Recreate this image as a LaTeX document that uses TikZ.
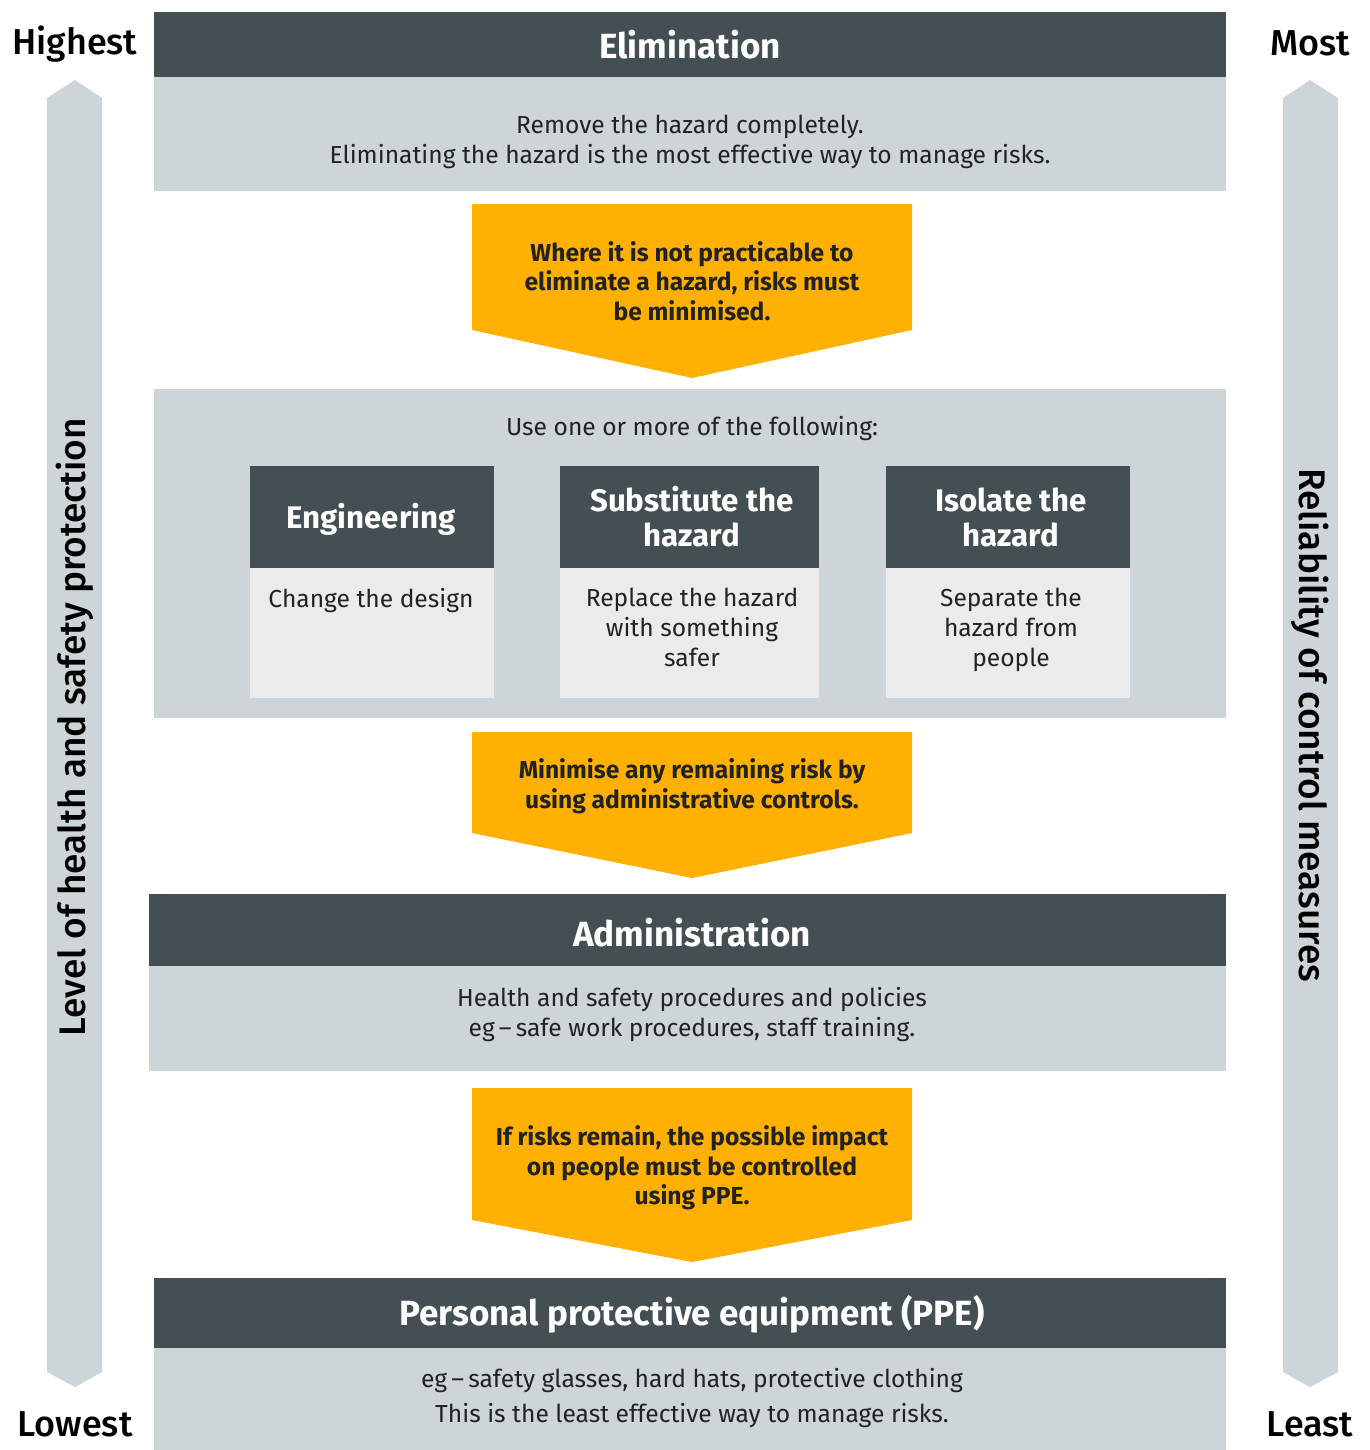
\documentclass[tikz,border=0pt]{standalone}
\usepackage{fontspec}
\setmainfont{Fira Sans}
\newfontfamily\medfont{Fira Sans Medium}
\definecolor{dark}{HTML}{444F54}
\definecolor{lightg}{HTML}{CDD5D8}
\definecolor{pale}{HTML}{EBEBEB}
\definecolor{amber}{HTML}{FFB000}
\definecolor{ink}{HTML}{222222}
\begin{document}
\begin{tikzpicture}[x=1pt,y=-1pt,
  box/.style={inner sep=0pt,outer sep=0pt,draw=none},
  hdr/.style={box,fill=dark},
  band/.style={box,fill=lightg},
  subbody/.style={box,fill=pale},
  hdrtext/.style={text=white,font=\bfseries\fontsize{35}{40}\selectfont,align=center,inner sep=0pt},
  subhdrtext/.style={text=white,font=\bfseries\fontsize{31.2}{35}\selectfont,align=center,inner sep=0pt},
  bodytext/.style={text=ink,font=\fontsize{24.6}{30}\selectfont,align=center,inner sep=0pt},
  ppetext/.style={text=ink,font=\fontsize{24.6}{35}\selectfont,align=center,inner sep=0pt},
  chevtext/.style={text=ink,font=\bfseries\fontsize{24.6}{29.5}\selectfont,align=center,inner sep=0pt},
  cornertext/.style={text=black,font=\medfont\fontsize{36}{40}\selectfont,inner sep=0pt},
  sidetext/.style={text=black,font=\medfont\fontsize{37}{40}\selectfont,inner sep=0pt},
  chev/.style={fill=amber,draw=none},
  sidearrow/.style={fill=lightg,draw=none}]
\useasboundingbox (0,0) rectangle (1369,1450);
\fill[white] (0,0) rectangle (1369,1450);

% side arrows
\fill[sidearrow] (47,98) -- (75,80) -- (102,98) -- (102,1372) -- (75,1387) -- (47,1372) -- cycle;
\fill[sidearrow] (1283,98) -- (1310,80) -- (1338,98) -- (1338,1372) -- (1310,1387) -- (1283,1372) -- cycle;
\node[cornertext] (highest) at (75,44) {Highest};
\node[cornertext] (lowest) at (75,1424) {Lowest};
\node[cornertext] (most) at (1310,43) {Most};
\node[cornertext] (least) at (1310,1424) {Least};
\node[sidetext,rotate=90] (leftlabel) at (75,727) {Level of health and safety protection};
\node[sidetext,rotate=-90] (rightlabel) at (1310,725) {Reliability of control measures};

% Elimination
\node[hdr,minimum width=1072pt,minimum height=65pt] (elimH) at (690,44.5) {};
\node[hdrtext] (elimT) at (690,44.5) {Elimination};
\node[band,minimum width=1072pt,minimum height=114pt] (elimB) at (690,134) {};
\node[bodytext] (elimBT) at (690,142) {Remove the hazard completely.\\Eliminating the hazard is the most effective way to manage risks.};

% chevron 1
\fill[chev] (472,204) -- (912,204) -- (912,330) -- (692,378) -- (472,330) -- cycle;
\node[chevtext] (chev1) at (692,281) {Where it is not practicable to\\eliminate a hazard, risks must\\be minimised.};

% middle band
\node[band,minimum width=1072pt,minimum height=329pt] (midB) at (690,553.5) {};
\node[bodytext] (midT) at (692,429) {Use one or more of the following:};

\node[hdr,minimum width=244pt,minimum height=102pt] (engH) at (372,517) {};
\node[subhdrtext] (engT) at (371,519) {Engineering};
\node[subbody,minimum width=244pt,minimum height=130pt] (engB) at (372,633) {};
\node[bodytext,anchor=north] (engBT) at (371,588) {Change the design};

\node[hdr,minimum width=259pt,minimum height=102pt] (subH) at (689.5,517) {};
\node[subhdrtext] (subT) at (692,517) {Substitute the\\hazard};
\node[subbody,minimum width=259pt,minimum height=130pt] (subB) at (689.5,633) {};
\node[bodytext,anchor=north] (subBT) at (692,588) {Replace the hazard\\with something\\safer};

\node[hdr,minimum width=244pt,minimum height=102pt] (isoH) at (1008,517) {};
\node[subhdrtext] (isoT) at (1011,517) {Isolate the\\hazard};
\node[subbody,minimum width=244pt,minimum height=130pt] (isoB) at (1008,633) {};
\node[bodytext,anchor=north] (isoBT) at (1011,588) {Separate the\\hazard from\\people};

% chevron 2
\fill[chev] (472,732) -- (912,732) -- (912,833) -- (692,878) -- (472,833) -- cycle;
\node[chevtext] (chev2) at (692,786) {Minimise any remaining risk by\\using administrative controls.};

% Administration
\node[hdr,minimum width=1077pt,minimum height=72pt] (admH) at (687.5,930) {};
\node[hdrtext] (admT) at (692,933) {Administration};
\node[band,minimum width=1077pt,minimum height=105pt] (admB) at (687.5,1018.5) {};
\node[bodytext] (admBT) at (692,1015) {Health and safety procedures and policies\\eg\,–\,safe work procedures, staff training.};

% chevron 3
\fill[chev] (472,1088) -- (912,1088) -- (912,1220) -- (692,1262) -- (472,1220) -- cycle;
\node[chevtext] (chev3) at (692,1168) {If risks remain, the possible impact\\on people must be controlled\\using PPE.};

% PPE
\node[hdr,minimum width=1072pt,minimum height=70pt] (ppeH) at (690,1313) {};
\node[hdrtext] (ppeT) at (692,1314) {Personal protective equipment (PPE)};
\node[band,minimum width=1072pt,minimum height=102pt] (ppeB) at (690,1399) {};
\node[ppetext] (ppeBT) at (692,1398) {eg\,–\,safety glasses, hard hats, protective clothing\\This is the least effective way to manage risks.};
\end{tikzpicture}
\end{document}
